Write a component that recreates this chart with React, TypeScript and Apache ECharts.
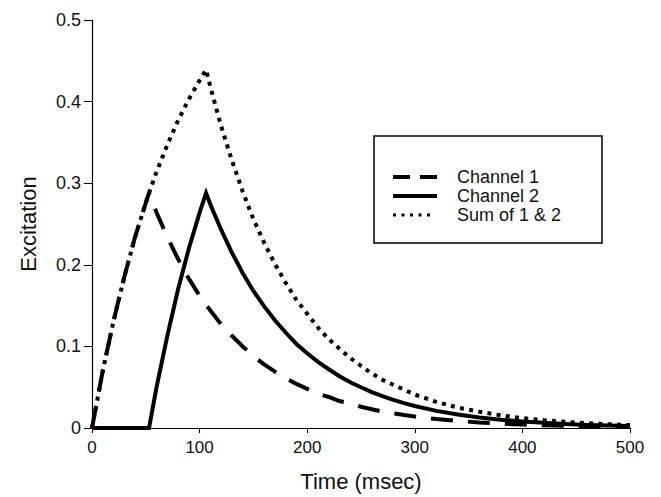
import React, { useEffect, useRef } from "react";
import * as echarts from "echarts";

const timeMs = [0, 10, 20, 30, 40, 50, 53, 60, 70, 80, 90, 100, 106, 110, 120, 130, 140, 150, 160, 170, 180, 190, 200, 210, 220, 230, 240, 250, 260, 270, 280, 290, 300, 320, 340, 360, 380, 400, 420, 440, 460, 480, 500];

const channel1 = [0, 0.070, 0.131, 0.185, 0.234, 0.276, 0.288, 0.264, 0.234, 0.207, 0.183, 0.162, 0.151, 0.144, 0.127, 0.113, 0.100, 0.088, 0.078, 0.069, 0.061, 0.054, 0.048, 0.042, 0.038, 0.033, 0.030, 0.026, 0.023, 0.020, 0.018, 0.016, 0.014, 0.011, 0.0087, 0.0068, 0.0053, 0.0042, 0.0033, 0.0026, 0.0020, 0.0016, 0.0012];

const channel2 = [0, 0, 0, 0, 0, 0, 0, 0.050, 0.113, 0.170, 0.220, 0.264, 0.288, 0.274, 0.243, 0.215, 0.190, 0.168, 0.149, 0.132, 0.117, 0.103, 0.0915, 0.081, 0.072, 0.0635, 0.056, 0.050, 0.044, 0.039, 0.0345, 0.0305, 0.027, 0.021, 0.0166, 0.013, 0.0102, 0.008, 0.0063, 0.0049, 0.0038, 0.0030, 0.0024];

const sum12 = [0, 0.070, 0.131, 0.185, 0.234, 0.276, 0.288, 0.314, 0.347, 0.377, 0.403, 0.426, 0.439, 0.418, 0.370, 0.328, 0.290, 0.256, 0.227, 0.201, 0.178, 0.157, 0.140, 0.123, 0.109, 0.097, 0.086, 0.076, 0.067, 0.059, 0.053, 0.047, 0.041, 0.032, 0.025, 0.020, 0.0155, 0.0122, 0.0096, 0.0075, 0.0058, 0.0046, 0.0036];

const seriesNames = ["Channel 1", "Channel 2", "Sum of 1 & 2"];
const xTicks = { min: 0, max: 500, interval: 100 };
const yTicks = { min: 0, max: 0.5, interval: 0.1 };

const FONT = "'Liberation Sans', Arial, Helvetica, sans-serif";

function pairs(vals: number[]) {
  return timeMs.map((t, i) => [t, vals[i]]);
}

export default function App() {
  const ref = useRef<HTMLDivElement>(null);
  useEffect(() => {
    if (!ref.current) return;
    const chart = echarts.init(ref.current, undefined, { renderer: "svg" });
    const legendX = 374;
    const legendY = 136;
    const rowY = [177, 196, 215];
    chart.setOption({
      animation: false,
      backgroundColor: "#ffffff",
      grid: { left: 92, right: 31, top: 20, bottom: 66, containLabel: false },
      xAxis: {
        type: "value",
        min: xTicks.min,
        max: xTicks.max,
        interval: xTicks.interval,
        name: "Time (msec)",
        nameLocation: "middle",
        nameGap: 42,
        nameTextStyle: { fontFamily: FONT, fontSize: 22, color: "#111" },
        axisLine: { show: true, lineStyle: { color: "#000", width: 1.2 } },
        axisTick: { show: true, length: 5, lineStyle: { color: "#000", width: 1 } },
        axisLabel: { fontFamily: FONT, fontSize: 17, color: "#111", margin: 11 },
        splitLine: { show: false },
      },
      yAxis: {
        type: "value",
        min: yTicks.min,
        max: yTicks.max,
        interval: yTicks.interval,
        name: "Excitation",
        nameLocation: "middle",
        nameGap: 53,
        nameTextStyle: { fontFamily: FONT, fontSize: 22, color: "#111" },
        axisLine: { show: true, lineStyle: { color: "#000", width: 1.2 } },
        axisTick: { show: true, length: 8, lineStyle: { color: "#000", width: 1 } },
        axisLabel: { fontFamily: FONT, fontSize: 18, color: "#111", margin: 11 },
        splitLine: { show: false },
      },
      series: [
        {
          name: seriesNames[1],
          type: "line",
          data: pairs(channel2),
          showSymbol: false,
          symbol: "none",
          lineStyle: { color: "#000", width: 4, type: "solid", join: "miter" },
          z: 2,
        },
        {
          name: seriesNames[0],
          type: "line",
          data: pairs(channel1),
          showSymbol: false,
          symbol: "none",
          lineStyle: { color: "#000", width: 4, type: [22, 15], cap: "butt" },
          z: 3,
        },
        {
          name: seriesNames[2],
          type: "line",
          data: pairs(sum12),
          showSymbol: false,
          symbol: "none",
          lineStyle: { color: "#000", width: 4, type: [4, 5.3], cap: "butt" },
          z: 4,
        },
      ],
      graphic: [
        {
          type: "rect",
          shape: { x: legendX, y: legendY, width: 228, height: 107 },
          style: { fill: "#fff", stroke: "#000", lineWidth: 1.5 },
          z: 10,
        },
        {
          type: "line",
          shape: { x1: 393, y1: rowY[0], x2: 437, y2: rowY[0] },
          style: { stroke: "#000", lineWidth: 4, lineDash: [17, 10] },
          z: 11,
        },
        {
          type: "line",
          shape: { x1: 393, y1: rowY[1], x2: 437, y2: rowY[1] },
          style: { stroke: "#000", lineWidth: 4 },
          z: 11,
        },
        {
          type: "line",
          shape: { x1: 393, y1: rowY[2], x2: 434, y2: rowY[2] },
          style: { stroke: "#000", lineWidth: 3, lineDash: [3, 5.5] },
          z: 11,
        },
        ...seriesNames.map((n, i) => ({
          type: "text",
          x: 457,
          y: rowY[i],
          style: {
            text: n,
            font: `18px ${FONT}`,
            fontSize: 18,
            lineHeight: 18,
            fill: "#111",
            textVerticalAlign: "middle",
            verticalAlign: "middle",
          },
          z: 11,
        })),
      ],
    });
    return () => chart.dispose();
  }, []);
  return (
    <div
      ref={ref}
      style={{ position: "fixed", left: 0, top: 0, width: 661, height: 497 }}
    />
  );
}
